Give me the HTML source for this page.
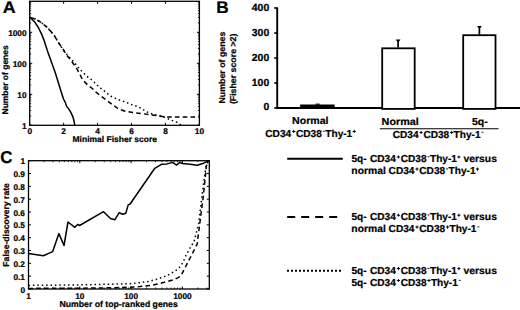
<!DOCTYPE html>
<html><head><meta charset="utf-8"><style>
html,body{margin:0;padding:0;background:#fff;width:520px;height:310px;overflow:hidden}
svg{display:block}
text{font-family:"Liberation Sans",sans-serif;fill:#000;text-rendering:geometricPrecision;stroke:#000;stroke-width:0.22px}
</style></head><body>
<svg width="520" height="310" viewBox="0 0 520 310">
<rect x="29.7" y="1.3" width="169.70" height="124.00" fill="none" stroke="#000" stroke-width="1.3"/>
<line x1="29.70" y1="125.30" x2="29.70" y2="122.80" stroke="#000" stroke-width="1" />
<line x1="29.70" y1="1.30" x2="29.70" y2="3.80" stroke="#000" stroke-width="1" />
<text x="29.70" y="134.40" font-size="8.3" font-weight="bold" text-anchor="middle" >0</text>
<line x1="63.64" y1="125.30" x2="63.64" y2="122.80" stroke="#000" stroke-width="1" />
<line x1="63.64" y1="1.30" x2="63.64" y2="3.80" stroke="#000" stroke-width="1" />
<text x="63.64" y="134.40" font-size="8.3" font-weight="bold" text-anchor="middle" >2</text>
<line x1="97.58" y1="125.30" x2="97.58" y2="122.80" stroke="#000" stroke-width="1" />
<line x1="97.58" y1="1.30" x2="97.58" y2="3.80" stroke="#000" stroke-width="1" />
<text x="97.58" y="134.40" font-size="8.3" font-weight="bold" text-anchor="middle" >4</text>
<line x1="131.52" y1="125.30" x2="131.52" y2="122.80" stroke="#000" stroke-width="1" />
<line x1="131.52" y1="1.30" x2="131.52" y2="3.80" stroke="#000" stroke-width="1" />
<text x="131.52" y="134.40" font-size="8.3" font-weight="bold" text-anchor="middle" >6</text>
<line x1="165.46" y1="125.30" x2="165.46" y2="122.80" stroke="#000" stroke-width="1" />
<line x1="165.46" y1="1.30" x2="165.46" y2="3.80" stroke="#000" stroke-width="1" />
<text x="165.46" y="134.40" font-size="8.3" font-weight="bold" text-anchor="middle" >8</text>
<line x1="199.40" y1="125.30" x2="199.40" y2="122.80" stroke="#000" stroke-width="1" />
<line x1="199.40" y1="1.30" x2="199.40" y2="3.80" stroke="#000" stroke-width="1" />
<text x="199.40" y="134.40" font-size="8.3" font-weight="bold" text-anchor="middle" >10</text>
<line x1="29.70" y1="125.30" x2="32.20" y2="125.30" stroke="#000" stroke-width="1" />
<line x1="199.40" y1="125.30" x2="196.90" y2="125.30" stroke="#000" stroke-width="1" />
<line x1="29.70" y1="115.97" x2="31.20" y2="115.97" stroke="#000" stroke-width="0.8" />
<line x1="199.40" y1="115.97" x2="197.90" y2="115.97" stroke="#000" stroke-width="0.8" />
<line x1="29.70" y1="110.51" x2="31.20" y2="110.51" stroke="#000" stroke-width="0.8" />
<line x1="199.40" y1="110.51" x2="197.90" y2="110.51" stroke="#000" stroke-width="0.8" />
<line x1="29.70" y1="106.64" x2="31.20" y2="106.64" stroke="#000" stroke-width="0.8" />
<line x1="199.40" y1="106.64" x2="197.90" y2="106.64" stroke="#000" stroke-width="0.8" />
<line x1="29.70" y1="103.63" x2="31.20" y2="103.63" stroke="#000" stroke-width="0.8" />
<line x1="199.40" y1="103.63" x2="197.90" y2="103.63" stroke="#000" stroke-width="0.8" />
<line x1="29.70" y1="101.18" x2="31.20" y2="101.18" stroke="#000" stroke-width="0.8" />
<line x1="199.40" y1="101.18" x2="197.90" y2="101.18" stroke="#000" stroke-width="0.8" />
<line x1="29.70" y1="99.10" x2="31.20" y2="99.10" stroke="#000" stroke-width="0.8" />
<line x1="199.40" y1="99.10" x2="197.90" y2="99.10" stroke="#000" stroke-width="0.8" />
<line x1="29.70" y1="97.30" x2="31.20" y2="97.30" stroke="#000" stroke-width="0.8" />
<line x1="199.40" y1="97.30" x2="197.90" y2="97.30" stroke="#000" stroke-width="0.8" />
<line x1="29.70" y1="95.72" x2="31.20" y2="95.72" stroke="#000" stroke-width="0.8" />
<line x1="199.40" y1="95.72" x2="197.90" y2="95.72" stroke="#000" stroke-width="0.8" />
<line x1="29.70" y1="94.30" x2="32.20" y2="94.30" stroke="#000" stroke-width="1" />
<line x1="199.40" y1="94.30" x2="196.90" y2="94.30" stroke="#000" stroke-width="1" />
<line x1="29.70" y1="84.97" x2="31.20" y2="84.97" stroke="#000" stroke-width="0.8" />
<line x1="199.40" y1="84.97" x2="197.90" y2="84.97" stroke="#000" stroke-width="0.8" />
<line x1="29.70" y1="79.51" x2="31.20" y2="79.51" stroke="#000" stroke-width="0.8" />
<line x1="199.40" y1="79.51" x2="197.90" y2="79.51" stroke="#000" stroke-width="0.8" />
<line x1="29.70" y1="75.64" x2="31.20" y2="75.64" stroke="#000" stroke-width="0.8" />
<line x1="199.40" y1="75.64" x2="197.90" y2="75.64" stroke="#000" stroke-width="0.8" />
<line x1="29.70" y1="72.63" x2="31.20" y2="72.63" stroke="#000" stroke-width="0.8" />
<line x1="199.40" y1="72.63" x2="197.90" y2="72.63" stroke="#000" stroke-width="0.8" />
<line x1="29.70" y1="70.18" x2="31.20" y2="70.18" stroke="#000" stroke-width="0.8" />
<line x1="199.40" y1="70.18" x2="197.90" y2="70.18" stroke="#000" stroke-width="0.8" />
<line x1="29.70" y1="68.10" x2="31.20" y2="68.10" stroke="#000" stroke-width="0.8" />
<line x1="199.40" y1="68.10" x2="197.90" y2="68.10" stroke="#000" stroke-width="0.8" />
<line x1="29.70" y1="66.30" x2="31.20" y2="66.30" stroke="#000" stroke-width="0.8" />
<line x1="199.40" y1="66.30" x2="197.90" y2="66.30" stroke="#000" stroke-width="0.8" />
<line x1="29.70" y1="64.72" x2="31.20" y2="64.72" stroke="#000" stroke-width="0.8" />
<line x1="199.40" y1="64.72" x2="197.90" y2="64.72" stroke="#000" stroke-width="0.8" />
<line x1="29.70" y1="63.30" x2="32.20" y2="63.30" stroke="#000" stroke-width="1" />
<line x1="199.40" y1="63.30" x2="196.90" y2="63.30" stroke="#000" stroke-width="1" />
<line x1="29.70" y1="53.97" x2="31.20" y2="53.97" stroke="#000" stroke-width="0.8" />
<line x1="199.40" y1="53.97" x2="197.90" y2="53.97" stroke="#000" stroke-width="0.8" />
<line x1="29.70" y1="48.51" x2="31.20" y2="48.51" stroke="#000" stroke-width="0.8" />
<line x1="199.40" y1="48.51" x2="197.90" y2="48.51" stroke="#000" stroke-width="0.8" />
<line x1="29.70" y1="44.64" x2="31.20" y2="44.64" stroke="#000" stroke-width="0.8" />
<line x1="199.40" y1="44.64" x2="197.90" y2="44.64" stroke="#000" stroke-width="0.8" />
<line x1="29.70" y1="41.63" x2="31.20" y2="41.63" stroke="#000" stroke-width="0.8" />
<line x1="199.40" y1="41.63" x2="197.90" y2="41.63" stroke="#000" stroke-width="0.8" />
<line x1="29.70" y1="39.18" x2="31.20" y2="39.18" stroke="#000" stroke-width="0.8" />
<line x1="199.40" y1="39.18" x2="197.90" y2="39.18" stroke="#000" stroke-width="0.8" />
<line x1="29.70" y1="37.10" x2="31.20" y2="37.10" stroke="#000" stroke-width="0.8" />
<line x1="199.40" y1="37.10" x2="197.90" y2="37.10" stroke="#000" stroke-width="0.8" />
<line x1="29.70" y1="35.30" x2="31.20" y2="35.30" stroke="#000" stroke-width="0.8" />
<line x1="199.40" y1="35.30" x2="197.90" y2="35.30" stroke="#000" stroke-width="0.8" />
<line x1="29.70" y1="33.72" x2="31.20" y2="33.72" stroke="#000" stroke-width="0.8" />
<line x1="199.40" y1="33.72" x2="197.90" y2="33.72" stroke="#000" stroke-width="0.8" />
<line x1="29.70" y1="32.30" x2="32.20" y2="32.30" stroke="#000" stroke-width="1" />
<line x1="199.40" y1="32.30" x2="196.90" y2="32.30" stroke="#000" stroke-width="1" />
<line x1="29.70" y1="22.97" x2="31.20" y2="22.97" stroke="#000" stroke-width="0.8" />
<line x1="199.40" y1="22.97" x2="197.90" y2="22.97" stroke="#000" stroke-width="0.8" />
<line x1="29.70" y1="17.51" x2="31.20" y2="17.51" stroke="#000" stroke-width="0.8" />
<line x1="199.40" y1="17.51" x2="197.90" y2="17.51" stroke="#000" stroke-width="0.8" />
<line x1="29.70" y1="13.64" x2="31.20" y2="13.64" stroke="#000" stroke-width="0.8" />
<line x1="199.40" y1="13.64" x2="197.90" y2="13.64" stroke="#000" stroke-width="0.8" />
<line x1="29.70" y1="10.63" x2="31.20" y2="10.63" stroke="#000" stroke-width="0.8" />
<line x1="199.40" y1="10.63" x2="197.90" y2="10.63" stroke="#000" stroke-width="0.8" />
<line x1="29.70" y1="8.18" x2="31.20" y2="8.18" stroke="#000" stroke-width="0.8" />
<line x1="199.40" y1="8.18" x2="197.90" y2="8.18" stroke="#000" stroke-width="0.8" />
<line x1="29.70" y1="6.10" x2="31.20" y2="6.10" stroke="#000" stroke-width="0.8" />
<line x1="199.40" y1="6.10" x2="197.90" y2="6.10" stroke="#000" stroke-width="0.8" />
<line x1="29.70" y1="4.30" x2="31.20" y2="4.30" stroke="#000" stroke-width="0.8" />
<line x1="199.40" y1="4.30" x2="197.90" y2="4.30" stroke="#000" stroke-width="0.8" />
<line x1="29.70" y1="2.72" x2="31.20" y2="2.72" stroke="#000" stroke-width="0.8" />
<line x1="199.40" y1="2.72" x2="197.90" y2="2.72" stroke="#000" stroke-width="0.8" />
<text x="26.60" y="128.60" font-size="8.3" font-weight="bold" text-anchor="end" >1</text>
<text x="26.60" y="97.60" font-size="8.3" font-weight="bold" text-anchor="end" >10</text>
<text x="26.60" y="66.60" font-size="8.3" font-weight="bold" text-anchor="end" >100</text>
<text x="26.60" y="35.60" font-size="8.3" font-weight="bold" text-anchor="end" >1000</text>
<text x="72.55" y="142.00" font-size="8.4" font-weight="bold" textLength="84.37" lengthAdjust="spacingAndGlyphs">Minimal Fisher score</text>
<text x="-114.45" y="0.00" font-size="8.4" font-weight="bold" textLength="69.11" lengthAdjust="spacingAndGlyphs" transform="translate(8.10,0) rotate(-90)">Number of genes</text>
<text x="2.75" y="12.60" font-size="16.8" font-weight="bold" textLength="12.93" lengthAdjust="spacingAndGlyphs">A</text>
<polyline points="30.00,17.40 34.50,21.70 38.30,27.50 41.50,33.90 44.10,40.40 47.40,50.70 48.90,55.00 55.30,72.70 60.60,90.00 63.50,99.00 65.50,102.90 66.50,106.10 68.10,108.10 70.60,111.90 73.00,117.10 74.30,122.30 74.80,125.30" fill="none" stroke="#000" stroke-width="1.5" stroke-linejoin="round" stroke-linecap="butt"/>
<polyline points="30.00,17.40 35.70,19.10 40.90,22.30 47.40,27.60 53.80,34.80 59.00,43.40 63.80,50.20 66.40,54.70 70.30,59.70 72.50,62.50 76.50,68.20 79.90,74.40 82.70,80.00 87.80,85.10 92.30,88.50 95.70,91.90 101.40,96.50 107.60,101.00 112.10,104.40 118.00,108.50 125.00,111.30 135.00,112.80 143.00,113.75 150.00,114.70 158.00,115.70 166.00,117.00 199.40,117.00" fill="none" stroke="#000" stroke-width="1.5" stroke-linejoin="round" stroke-linecap="butt" stroke-dasharray="4.6,3.2"/>
<polyline points="30.00,17.40 35.70,19.10 40.90,22.30 47.40,27.60 53.80,34.80 59.00,43.40 63.80,50.80 68.30,56.00 74.80,63.10 80.40,69.90 83.80,73.20 86.60,76.10 90.60,78.90 94.00,81.90 97.10,85.10 100.60,88.10 104.20,90.90 107.60,93.70 111.00,96.30 114.90,98.10 118.30,99.60 122.40,100.90 126.50,102.40 130.60,104.30 134.90,105.60 139.20,107.20 142.90,109.50 146.40,111.70 150.80,113.40 155.00,114.80 160.40,115.90 165.50,117.60 171.80,120.40 176.90,122.30 180.70,124.80 181.50,125.30" fill="none" stroke="#000" stroke-width="1.5" stroke-linejoin="round" stroke-linecap="butt" stroke-dasharray="1.5,2.9"/>
<text x="216.28" y="12.60" font-size="16.8" font-weight="bold" textLength="12.43" lengthAdjust="spacingAndGlyphs">B</text>
<line x1="277.20" y1="7.40" x2="277.20" y2="108.90" stroke="#000" stroke-width="1.9" />
<line x1="276.30" y1="108.00" x2="520.00" y2="108.00" stroke="#000" stroke-width="1.9" />
<line x1="274.20" y1="108.00" x2="277.20" y2="108.00" stroke="#000" stroke-width="1.6" />
<line x1="274.20" y1="83.00" x2="277.20" y2="83.00" stroke="#000" stroke-width="1.6" />
<line x1="274.20" y1="58.00" x2="277.20" y2="58.00" stroke="#000" stroke-width="1.6" />
<line x1="274.20" y1="33.00" x2="277.20" y2="33.00" stroke="#000" stroke-width="1.6" />
<line x1="274.20" y1="8.00" x2="277.20" y2="8.00" stroke="#000" stroke-width="1.6" />
<text x="269.20" y="10.90" font-size="10.4" font-weight="bold" text-anchor="end" >400</text>
<text x="269.20" y="35.95" font-size="10.4" font-weight="bold" text-anchor="end" >300</text>
<text x="269.20" y="60.95" font-size="10.4" font-weight="bold" text-anchor="end" >200</text>
<text x="269.20" y="86.00" font-size="10.4" font-weight="bold" text-anchor="end" >100</text>
<text x="269.20" y="110.15" font-size="10.4" font-weight="bold" text-anchor="end" >0</text>
<text x="-103.47" y="0.00" font-size="8.6" font-weight="bold" textLength="71.75" lengthAdjust="spacingAndGlyphs" transform="translate(225.30,0) rotate(-90)">Number of genes</text>
<text x="-104.14" y="0.00" font-size="8.6" font-weight="bold" textLength="70.55" lengthAdjust="spacingAndGlyphs" transform="translate(235.90,0) rotate(-90)">(Fisher score &gt;2)</text>
<rect x="382.20" y="48.30" width="32.50" height="60.60" fill="#fff" stroke="#000" stroke-width="1.8"/>
<rect x="463.20" y="35.20" width="32.30" height="73.70" fill="#fff" stroke="#000" stroke-width="1.8"/>
<rect x="300.1" y="104.5" width="34.5" height="3.5" fill="#000"/>
<rect x="315.6" y="103.6" width="4" height="1.2" fill="#000"/>
<line x1="398.10" y1="47.60" x2="398.10" y2="40.60" stroke="#000" stroke-width="1.7" />
<path d="M395.70,39.60 L400.50,39.60 L399.10,41.50 L397.10,41.50 Z" fill="#000"/>
<line x1="479.40" y1="34.50" x2="479.40" y2="27.10" stroke="#000" stroke-width="1.7" />
<path d="M477.00,26.10 L481.80,26.10 L480.40,28.00 L478.40,28.00 Z" fill="#000"/>
<text x="292.01" y="124.40" font-size="10.1" font-weight="bold" textLength="36.53" lengthAdjust="spacingAndGlyphs">Normal</text>
<text x="265.30" y="136.50" font-size="10.1" font-weight="bold">CD34</text>
<path d="M292.15,130.93h3.10v0.95h-3.10z M293.22,129.85h0.95v3.10h-0.95z" fill="#000"/>
<text x="296.00" y="136.50" font-size="10.1" font-weight="bold">CD38</text>
<rect x="322.85" y="130.75" width="1.90" height="0.90" fill="#000"/>
<text x="325.30" y="136.50" font-size="10.1" font-weight="bold">Thy-1</text>
<path d="M352.65,130.93h3.10v0.95h-3.10z M353.72,129.85h0.95v3.10h-0.95z" fill="#000"/>
<text x="381.60" y="124.50" font-size="10.1" font-weight="bold" textLength="37.16" lengthAdjust="spacingAndGlyphs">Normal</text>
<text x="471.99" y="124.50" font-size="10.1" font-weight="bold" textLength="15.74" lengthAdjust="spacingAndGlyphs">5q-</text>
<line x1="379.80" y1="128.80" x2="498.50" y2="128.80" stroke="#000" stroke-width="1.1" />
<text x="392.70" y="137.50" font-size="10.1" font-weight="bold">CD34</text>
<path d="M419.55,131.93h3.10v0.95h-3.10z M420.62,130.85h0.95v3.10h-0.95z" fill="#000"/>
<text x="423.40" y="137.50" font-size="10.1" font-weight="bold">CD38</text>
<path d="M450.15,131.93h3.10v0.95h-3.10z M451.23,130.85h0.95v3.10h-0.95z" fill="#000"/>
<text x="453.60" y="137.50" font-size="10.1" font-weight="bold">Thy-1</text>
<rect x="481.55" y="131.75" width="1.90" height="0.90" fill="#000"/>
<rect x="28.5" y="160.7" width="180.80" height="128.30" fill="none" stroke="#000" stroke-width="1.3"/>
<line x1="28.50" y1="289.00" x2="31.00" y2="289.00" stroke="#000" stroke-width="1" />
<line x1="209.30" y1="289.00" x2="206.80" y2="289.00" stroke="#000" stroke-width="1" />
<text x="25.00" y="292.60" font-size="8.3" font-weight="bold" text-anchor="end" >0</text>
<line x1="28.50" y1="276.17" x2="31.00" y2="276.17" stroke="#000" stroke-width="1" />
<line x1="209.30" y1="276.17" x2="206.80" y2="276.17" stroke="#000" stroke-width="1" />
<text x="25.00" y="279.77" font-size="8.3" font-weight="bold" text-anchor="end" >0.1</text>
<line x1="28.50" y1="263.34" x2="31.00" y2="263.34" stroke="#000" stroke-width="1" />
<line x1="209.30" y1="263.34" x2="206.80" y2="263.34" stroke="#000" stroke-width="1" />
<text x="25.00" y="266.94" font-size="8.3" font-weight="bold" text-anchor="end" >0.2</text>
<line x1="28.50" y1="250.51" x2="31.00" y2="250.51" stroke="#000" stroke-width="1" />
<line x1="209.30" y1="250.51" x2="206.80" y2="250.51" stroke="#000" stroke-width="1" />
<text x="25.00" y="254.11" font-size="8.3" font-weight="bold" text-anchor="end" >0.3</text>
<line x1="28.50" y1="237.68" x2="31.00" y2="237.68" stroke="#000" stroke-width="1" />
<line x1="209.30" y1="237.68" x2="206.80" y2="237.68" stroke="#000" stroke-width="1" />
<text x="25.00" y="241.28" font-size="8.3" font-weight="bold" text-anchor="end" >0.4</text>
<line x1="28.50" y1="224.85" x2="31.00" y2="224.85" stroke="#000" stroke-width="1" />
<line x1="209.30" y1="224.85" x2="206.80" y2="224.85" stroke="#000" stroke-width="1" />
<text x="25.00" y="228.45" font-size="8.3" font-weight="bold" text-anchor="end" >0.5</text>
<line x1="28.50" y1="212.02" x2="31.00" y2="212.02" stroke="#000" stroke-width="1" />
<line x1="209.30" y1="212.02" x2="206.80" y2="212.02" stroke="#000" stroke-width="1" />
<text x="25.00" y="215.62" font-size="8.3" font-weight="bold" text-anchor="end" >0.6</text>
<line x1="28.50" y1="199.19" x2="31.00" y2="199.19" stroke="#000" stroke-width="1" />
<line x1="209.30" y1="199.19" x2="206.80" y2="199.19" stroke="#000" stroke-width="1" />
<text x="25.00" y="202.79" font-size="8.3" font-weight="bold" text-anchor="end" >0.7</text>
<line x1="28.50" y1="186.36" x2="31.00" y2="186.36" stroke="#000" stroke-width="1" />
<line x1="209.30" y1="186.36" x2="206.80" y2="186.36" stroke="#000" stroke-width="1" />
<text x="25.00" y="189.96" font-size="8.3" font-weight="bold" text-anchor="end" >0.8</text>
<line x1="28.50" y1="173.53" x2="31.00" y2="173.53" stroke="#000" stroke-width="1" />
<line x1="209.30" y1="173.53" x2="206.80" y2="173.53" stroke="#000" stroke-width="1" />
<text x="25.00" y="177.13" font-size="8.3" font-weight="bold" text-anchor="end" >0.9</text>
<line x1="28.50" y1="160.70" x2="31.00" y2="160.70" stroke="#000" stroke-width="1" />
<line x1="209.30" y1="160.70" x2="206.80" y2="160.70" stroke="#000" stroke-width="1" />
<text x="25.00" y="164.30" font-size="8.3" font-weight="bold" text-anchor="end" >1</text>
<line x1="28.50" y1="289.00" x2="28.50" y2="286.50" stroke="#000" stroke-width="1" />
<line x1="28.50" y1="160.70" x2="28.50" y2="163.20" stroke="#000" stroke-width="1" />
<line x1="43.94" y1="289.00" x2="43.94" y2="287.50" stroke="#000" stroke-width="0.8" />
<line x1="43.94" y1="160.70" x2="43.94" y2="162.20" stroke="#000" stroke-width="0.8" />
<line x1="52.98" y1="289.00" x2="52.98" y2="287.50" stroke="#000" stroke-width="0.8" />
<line x1="52.98" y1="160.70" x2="52.98" y2="162.20" stroke="#000" stroke-width="0.8" />
<line x1="59.39" y1="289.00" x2="59.39" y2="287.50" stroke="#000" stroke-width="0.8" />
<line x1="59.39" y1="160.70" x2="59.39" y2="162.20" stroke="#000" stroke-width="0.8" />
<line x1="64.36" y1="289.00" x2="64.36" y2="287.50" stroke="#000" stroke-width="0.8" />
<line x1="64.36" y1="160.70" x2="64.36" y2="162.20" stroke="#000" stroke-width="0.8" />
<line x1="68.42" y1="289.00" x2="68.42" y2="287.50" stroke="#000" stroke-width="0.8" />
<line x1="68.42" y1="160.70" x2="68.42" y2="162.20" stroke="#000" stroke-width="0.8" />
<line x1="71.85" y1="289.00" x2="71.85" y2="287.50" stroke="#000" stroke-width="0.8" />
<line x1="71.85" y1="160.70" x2="71.85" y2="162.20" stroke="#000" stroke-width="0.8" />
<line x1="74.83" y1="289.00" x2="74.83" y2="287.50" stroke="#000" stroke-width="0.8" />
<line x1="74.83" y1="160.70" x2="74.83" y2="162.20" stroke="#000" stroke-width="0.8" />
<line x1="77.45" y1="289.00" x2="77.45" y2="287.50" stroke="#000" stroke-width="0.8" />
<line x1="77.45" y1="160.70" x2="77.45" y2="162.20" stroke="#000" stroke-width="0.8" />
<line x1="79.80" y1="289.00" x2="79.80" y2="286.50" stroke="#000" stroke-width="1" />
<line x1="79.80" y1="160.70" x2="79.80" y2="163.20" stroke="#000" stroke-width="1" />
<line x1="95.24" y1="289.00" x2="95.24" y2="287.50" stroke="#000" stroke-width="0.8" />
<line x1="95.24" y1="160.70" x2="95.24" y2="162.20" stroke="#000" stroke-width="0.8" />
<line x1="104.28" y1="289.00" x2="104.28" y2="287.50" stroke="#000" stroke-width="0.8" />
<line x1="104.28" y1="160.70" x2="104.28" y2="162.20" stroke="#000" stroke-width="0.8" />
<line x1="110.69" y1="289.00" x2="110.69" y2="287.50" stroke="#000" stroke-width="0.8" />
<line x1="110.69" y1="160.70" x2="110.69" y2="162.20" stroke="#000" stroke-width="0.8" />
<line x1="115.66" y1="289.00" x2="115.66" y2="287.50" stroke="#000" stroke-width="0.8" />
<line x1="115.66" y1="160.70" x2="115.66" y2="162.20" stroke="#000" stroke-width="0.8" />
<line x1="119.72" y1="289.00" x2="119.72" y2="287.50" stroke="#000" stroke-width="0.8" />
<line x1="119.72" y1="160.70" x2="119.72" y2="162.20" stroke="#000" stroke-width="0.8" />
<line x1="123.15" y1="289.00" x2="123.15" y2="287.50" stroke="#000" stroke-width="0.8" />
<line x1="123.15" y1="160.70" x2="123.15" y2="162.20" stroke="#000" stroke-width="0.8" />
<line x1="126.13" y1="289.00" x2="126.13" y2="287.50" stroke="#000" stroke-width="0.8" />
<line x1="126.13" y1="160.70" x2="126.13" y2="162.20" stroke="#000" stroke-width="0.8" />
<line x1="128.75" y1="289.00" x2="128.75" y2="287.50" stroke="#000" stroke-width="0.8" />
<line x1="128.75" y1="160.70" x2="128.75" y2="162.20" stroke="#000" stroke-width="0.8" />
<line x1="131.10" y1="289.00" x2="131.10" y2="286.50" stroke="#000" stroke-width="1" />
<line x1="131.10" y1="160.70" x2="131.10" y2="163.20" stroke="#000" stroke-width="1" />
<line x1="146.54" y1="289.00" x2="146.54" y2="287.50" stroke="#000" stroke-width="0.8" />
<line x1="146.54" y1="160.70" x2="146.54" y2="162.20" stroke="#000" stroke-width="0.8" />
<line x1="155.58" y1="289.00" x2="155.58" y2="287.50" stroke="#000" stroke-width="0.8" />
<line x1="155.58" y1="160.70" x2="155.58" y2="162.20" stroke="#000" stroke-width="0.8" />
<line x1="161.99" y1="289.00" x2="161.99" y2="287.50" stroke="#000" stroke-width="0.8" />
<line x1="161.99" y1="160.70" x2="161.99" y2="162.20" stroke="#000" stroke-width="0.8" />
<line x1="166.96" y1="289.00" x2="166.96" y2="287.50" stroke="#000" stroke-width="0.8" />
<line x1="166.96" y1="160.70" x2="166.96" y2="162.20" stroke="#000" stroke-width="0.8" />
<line x1="171.02" y1="289.00" x2="171.02" y2="287.50" stroke="#000" stroke-width="0.8" />
<line x1="171.02" y1="160.70" x2="171.02" y2="162.20" stroke="#000" stroke-width="0.8" />
<line x1="174.45" y1="289.00" x2="174.45" y2="287.50" stroke="#000" stroke-width="0.8" />
<line x1="174.45" y1="160.70" x2="174.45" y2="162.20" stroke="#000" stroke-width="0.8" />
<line x1="177.43" y1="289.00" x2="177.43" y2="287.50" stroke="#000" stroke-width="0.8" />
<line x1="177.43" y1="160.70" x2="177.43" y2="162.20" stroke="#000" stroke-width="0.8" />
<line x1="180.05" y1="289.00" x2="180.05" y2="287.50" stroke="#000" stroke-width="0.8" />
<line x1="180.05" y1="160.70" x2="180.05" y2="162.20" stroke="#000" stroke-width="0.8" />
<line x1="182.40" y1="289.00" x2="182.40" y2="286.50" stroke="#000" stroke-width="1" />
<line x1="182.40" y1="160.70" x2="182.40" y2="163.20" stroke="#000" stroke-width="1" />
<line x1="197.84" y1="289.00" x2="197.84" y2="287.50" stroke="#000" stroke-width="0.8" />
<line x1="197.84" y1="160.70" x2="197.84" y2="162.20" stroke="#000" stroke-width="0.8" />
<line x1="206.88" y1="289.00" x2="206.88" y2="287.50" stroke="#000" stroke-width="0.8" />
<line x1="206.88" y1="160.70" x2="206.88" y2="162.20" stroke="#000" stroke-width="0.8" />
<text x="28.50" y="298.60" font-size="8.3" font-weight="bold" text-anchor="middle" >1</text>
<text x="79.80" y="298.60" font-size="8.3" font-weight="bold" text-anchor="middle" >10</text>
<text x="131.10" y="298.60" font-size="8.3" font-weight="bold" text-anchor="middle" >100</text>
<text x="182.40" y="298.60" font-size="8.3" font-weight="bold" text-anchor="middle" >1000</text>
<text x="59.44" y="306.60" font-size="8.7" font-weight="bold" textLength="118.29" lengthAdjust="spacingAndGlyphs">Number of top-ranked genes</text>
<text x="-266.66" y="0.00" font-size="8.6" font-weight="bold" textLength="83.58" lengthAdjust="spacingAndGlyphs" transform="translate(8.70,0) rotate(-90)">False-discovery rate</text>
<text x="0.32" y="162.80" font-size="17.2" font-weight="bold" textLength="12.24" lengthAdjust="spacingAndGlyphs">C</text>
<polyline points="28.50,253.50 43.30,255.70 52.70,251.60 58.90,233.60 64.00,245.50 68.00,222.00 74.80,227.30 77.80,224.40 79.60,225.50 103.50,211.70 110.50,218.50 114.90,219.70 119.20,212.70 122.90,214.20 125.80,213.20 128.20,204.90 130.10,204.00 154.80,168.30 161.90,164.20 167.20,163.90 172.60,162.40 176.50,165.10 179.70,162.40 182.30,163.50 190.00,164.20 197.30,165.20 203.60,163.20 207.40,161.30 209.30,160.70" fill="none" stroke="#000" stroke-width="1.5" stroke-linejoin="round" stroke-linecap="butt"/>
<polyline points="28.50,288.40 80.00,288.20 110.00,287.80 130.00,287.20 140.00,286.60 151.60,285.40 163.20,282.60 172.50,280.00 178.30,277.60 181.20,275.30 191.60,255.00 197.10,244.30 200.10,221.00 203.00,199.00 205.50,175.00 206.80,163.00 208.50,160.70" fill="none" stroke="#000" stroke-width="1.5" stroke-linejoin="round" stroke-linecap="butt" stroke-dasharray="4.6,3.2"/>
<polyline points="28.50,285.40 80.00,284.90 130.00,283.70 140.60,282.60 148.70,281.50 153.90,280.00 158.60,278.80 162.60,277.00 166.70,275.90 170.80,273.60 174.80,271.20 178.30,268.70 181.20,265.20 183.50,261.40 185.30,256.70 188.80,250.00 194.10,241.50 198.60,223.70 201.50,200.00 204.00,180.00 206.00,166.00 208.50,160.70" fill="none" stroke="#000" stroke-width="1.5" stroke-linejoin="round" stroke-linecap="butt" stroke-dasharray="1.5,2.9"/>
<line x1="287.20" y1="158.70" x2="342.80" y2="158.70" stroke="#000" stroke-width="2" />
<line x1="287.2" y1="217" x2="337.3" y2="217" stroke="#000" stroke-width="2" stroke-dasharray="8,6"/>
<line x1="287" y1="270.7" x2="341" y2="270.7" stroke="#000" stroke-width="2" stroke-dasharray="2,2"/>
<text x="351.40" y="162.10" font-size="10.1" font-weight="bold">5q- </text>
<text x="370.00" y="162.10" font-size="10.1" font-weight="bold">CD34</text>
<path d="M396.85,156.53h3.10v0.95h-3.10z M397.92,155.45h0.95v3.10h-0.95z" fill="#000"/>
<text x="400.70" y="162.10" font-size="10.1" font-weight="bold">CD38</text>
<rect x="427.55" y="156.35" width="1.90" height="0.90" fill="#000"/>
<text x="430.00" y="162.10" font-size="10.1" font-weight="bold">Thy-1</text>
<path d="M457.35,156.53h3.10v0.95h-3.10z M458.42,155.45h0.95v3.10h-0.95z" fill="#000"/>
<text x="463.55" y="162.10" font-size="10.1" font-weight="bold" textLength="33.36" lengthAdjust="spacingAndGlyphs">versus</text>
<text x="351.33" y="174.20" font-size="10.1" font-weight="bold" textLength="34.44" lengthAdjust="spacingAndGlyphs">normal</text>
<text x="388.60" y="174.20" font-size="10.1" font-weight="bold">CD34</text>
<path d="M415.45,168.62h3.10v0.95h-3.10z M416.52,167.55h0.95v3.10h-0.95z" fill="#000"/>
<text x="419.30" y="174.20" font-size="10.1" font-weight="bold">CD38</text>
<rect x="446.15" y="168.45" width="1.90" height="0.90" fill="#000"/>
<text x="448.60" y="174.20" font-size="10.1" font-weight="bold">Thy-1</text>
<path d="M475.95,168.62h3.10v0.95h-3.10z M477.02,167.55h0.95v3.10h-0.95z" fill="#000"/>
<text x="351.40" y="220.30" font-size="10.1" font-weight="bold">5q- </text>
<text x="370.00" y="220.30" font-size="10.1" font-weight="bold">CD34</text>
<path d="M396.85,214.73h3.10v0.95h-3.10z M397.92,213.65h0.95v3.10h-0.95z" fill="#000"/>
<text x="400.70" y="220.30" font-size="10.1" font-weight="bold">CD38</text>
<rect x="427.55" y="214.55" width="1.90" height="0.90" fill="#000"/>
<text x="430.00" y="220.30" font-size="10.1" font-weight="bold">Thy-1</text>
<path d="M457.35,214.73h3.10v0.95h-3.10z M458.42,213.65h0.95v3.10h-0.95z" fill="#000"/>
<text x="463.55" y="220.30" font-size="10.1" font-weight="bold" textLength="33.36" lengthAdjust="spacingAndGlyphs">versus</text>
<text x="351.33" y="232.20" font-size="10.1" font-weight="bold" textLength="34.44" lengthAdjust="spacingAndGlyphs">normal</text>
<text x="388.60" y="232.20" font-size="10.1" font-weight="bold">CD34</text>
<path d="M415.45,226.62h3.10v0.95h-3.10z M416.52,225.55h0.95v3.10h-0.95z" fill="#000"/>
<text x="419.30" y="232.20" font-size="10.1" font-weight="bold">CD38</text>
<path d="M446.05,226.62h3.10v0.95h-3.10z M447.12,225.55h0.95v3.10h-0.95z" fill="#000"/>
<text x="449.50" y="232.20" font-size="10.1" font-weight="bold">Thy-1</text>
<rect x="477.45" y="226.45" width="1.90" height="0.90" fill="#000"/>
<text x="351.40" y="273.70" font-size="10.1" font-weight="bold">5q- </text>
<text x="370.00" y="273.70" font-size="10.1" font-weight="bold">CD34</text>
<path d="M396.85,268.12h3.10v0.95h-3.10z M397.92,267.05h0.95v3.10h-0.95z" fill="#000"/>
<text x="400.70" y="273.70" font-size="10.1" font-weight="bold">CD38</text>
<rect x="427.55" y="267.95" width="1.90" height="0.90" fill="#000"/>
<text x="430.00" y="273.70" font-size="10.1" font-weight="bold">Thy-1</text>
<path d="M457.35,268.12h3.10v0.95h-3.10z M458.42,267.05h0.95v3.10h-0.95z" fill="#000"/>
<text x="463.55" y="273.70" font-size="10.1" font-weight="bold" textLength="33.36" lengthAdjust="spacingAndGlyphs">versus</text>
<text x="351.40" y="285.60" font-size="10.1" font-weight="bold">5q- </text>
<text x="370.00" y="285.60" font-size="10.1" font-weight="bold">CD34</text>
<path d="M396.85,280.02h3.10v0.95h-3.10z M397.92,278.95h0.95v3.10h-0.95z" fill="#000"/>
<text x="400.70" y="285.60" font-size="10.1" font-weight="bold">CD38</text>
<path d="M427.45,280.02h3.10v0.95h-3.10z M428.52,278.95h0.95v3.10h-0.95z" fill="#000"/>
<text x="430.90" y="285.60" font-size="10.1" font-weight="bold">Thy-1</text>
<rect x="458.85" y="279.85" width="1.90" height="0.90" fill="#000"/>
</svg>
</body></html>
